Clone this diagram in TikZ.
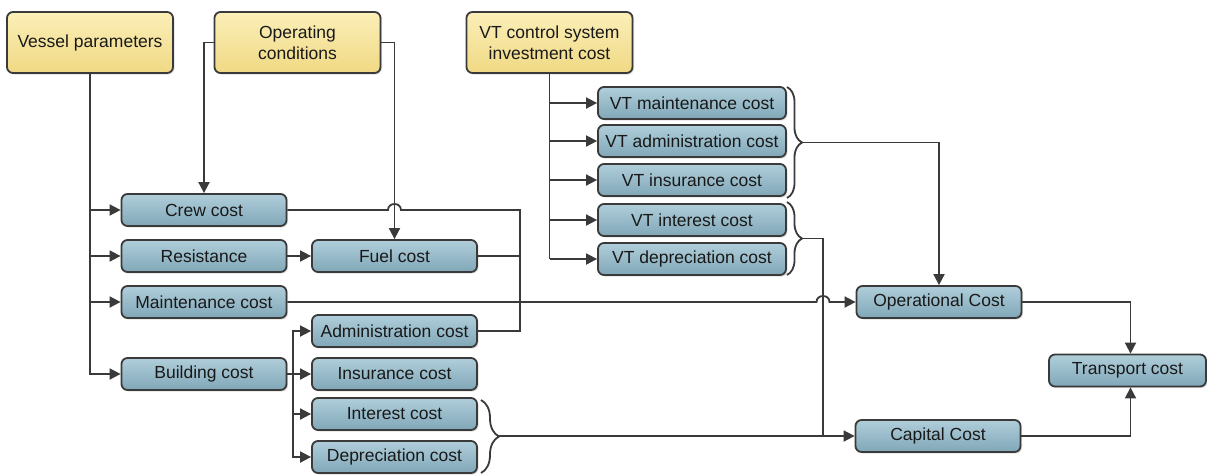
\documentclass[tikz,border=0pt]{standalone}
\usepackage{fontspec}
\setmainfont{Liberation Sans}
\usetikzlibrary{arrows.meta,shadows,decorations.pathreplacing}
\definecolor{lc}{HTML}{3A3A3A}
\definecolor{ytop}{HTML}{FBEFB8}
\definecolor{ybot}{HTML}{F0D984}
\definecolor{btop}{HTML}{B0CEDA}
\definecolor{bbot}{HTML}{80A7B8}
\begin{document}
\begin{tikzpicture}[x=1pt,y=-1pt,
  box/.style={draw=lc, line width=1.8pt, rounded corners=6pt, inner sep=0pt, align=center,
    font=\fontsize{17.5}{20.5}\selectfont, text=black!90,
    drop shadow={shadow xshift=1.5pt, shadow yshift=-1.5pt, opacity=0.25}},
  ybox/.style={box, top color=ytop, bottom color=ybot, minimum width=166pt, minimum height=61pt},
  bbox/.style={box, top color=btop, bottom color=bbot, minimum width=165pt, minimum height=32pt},
  vbox/.style={bbox, minimum width=188pt},
  conn/.style={draw=lc, line width=1.8pt},
  arr/.style={conn, -{Triangle[length=11pt,width=11pt]}},
  brc/.style={conn, decorate, decoration={brace, amplitude=#1}}]
\fill[white] (0,0) rectangle (1207,475);
\useasboundingbox (0,0) rectangle (1207,475);

% top boxes
\node[ybox] (vp) at (90,42.5) {Vessel parameters};
\node[ybox] (oc) at (297.5,42.5) {Operating\\conditions};
\node[ybox] (vt) at (549.5,42.5) {VT control system\\investment cost};

% left column
\node[bbox] (crew) at (204,210) {Crew cost};
\node[bbox] (res)  at (204,256) {Resistance};
\node[bbox] (mnt)  at (204,302) {Maintenance cost};
\node[bbox] (bld)  at (204,374) {Building cost};

% middle column
\node[bbox] (fuel) at (394.5,256) {Fuel cost};
\node[bbox] (adm)  at (394.5,331) {Administration cost};
\node[bbox] (ins)  at (394.5,374) {Insurance cost};
\node[bbox] (int)  at (394.5,414) {Interest cost};
\node[bbox] (dep)  at (394.5,457) {Depreciation cost};

% VT column
\node[vbox] (vtm) at (692,103) {VT maintenance cost};
\node[vbox] (vta) at (692,141) {VT administration cost};
\node[vbox] (vti) at (692,180) {VT insurance cost};
\node[vbox] (vtn) at (692,220) {VT interest cost};
\node[vbox] (vtd) at (692,259) {VT depreciation cost};

% right
\node[bbox] (op)  at (939,302) {Operational Cost};
\node[bbox] (cap) at (938,436) {Capital Cost};
\node[bbox, minimum width=157pt] (tr) at (1127.5,370.5) {Transport cost};

% vessel parameters
\draw[arr] (vp.south) |- (bld.west);
\draw[arr] (vp.south |- crew) -- (crew.west);
\draw[arr] (vp.south |- res) -- (res.west);
\draw[arr] (vp.south |- mnt) -- (mnt.west);

% operating conditions
\draw[arr] (oc.west) -| (crew.north);
\draw[arr] (oc.east) -| (fuel.north);

% resistance -> fuel
\draw[arr] (res.east) -- (fuel.west);

% crew, fuel, administration bundle
\coordinate (j1) at (520,210);
\coordinate (j2) at (520,331);
\draw[conn] (crew.east) -- (388,210) .. controls (388,202) and (401,202) .. (401,210) -- (j1) -- (j2) -- (adm.east);
\draw[conn] (fuel.east) -- (fuel.east -| j1);

% maintenance -> operational (hop)
\draw[arr] (mnt.east) -- (816.5,302) .. controls (816.5,294) and (829.5,294) .. (829.5,302) -- (op.west);

% building cost branches
\coordinate (bv) at (293,374);
\draw[conn] (bld.east) -- (bv);
\draw[arr] (bv) |- (adm.west);
\draw[arr] (bv) -- (ins.west);
\draw[arr] (bv) |- (int.west);
\draw[arr] (bv) |- (dep.west);

% brace interest + depreciation -> capital
\draw[brc=18pt] (481,400) -- (481,473);
\coordinate (b3) at (499,436);
\draw[arr] (b3) -- (cap.west);

% VT branches
\draw[conn] (vt.south) -- (vt.south |- vtd);
\draw[arr] (vt.south |- vtm) -- (vtm.west);
\draw[arr] (vt.south |- vta) -- (vta.west);
\draw[arr] (vt.south |- vti) -- (vti.west);
\draw[arr] (vt.south |- vtn) -- (vtn.west);
\draw[arr] (vt.south |- vtd) -- (vtd.west);

% VT braces
\draw[brc=15pt] (787,87) -- (787,198);
\coordinate (b1) at (802,142.5);
\draw[arr] (b1) -| (op.north);
\draw[brc=15pt] (787,202) -- (787,275);
\coordinate (b2) at (802,238.5);
\coordinate (b2d) at (823,436);
\draw[conn] (b2) -| (b2d);

% to transport
\draw[arr] (op.east) -| ([xshift=3pt]tr.north);
\draw[arr] (cap.east) -| ([xshift=3pt]tr.south);
\end{tikzpicture}
\end{document}
